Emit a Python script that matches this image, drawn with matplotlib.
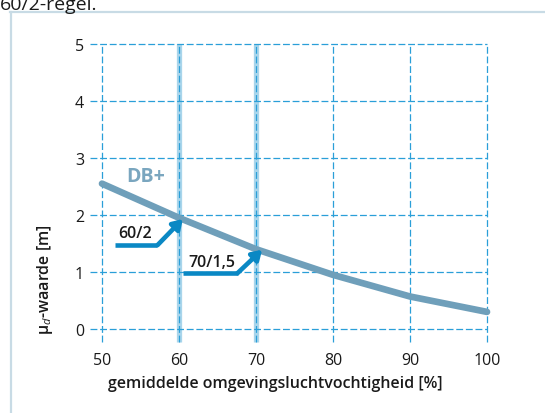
import matplotlib
matplotlib.use("Agg")
import matplotlib.pyplot as plt
from matplotlib.lines import Line2D

plt.rcParams['font.family'] = ['Open Sans', 'DejaVu Sans']
plt.rcParams['mathtext.fontset'] = 'custom'
plt.rcParams['mathtext.rm'] = 'Open Sans'
plt.rcParams['mathtext.it'] = 'Open Sans:italic'

# data
humidity = [50, 60, 70, 80, 90, 100]
mu_d = [2.55, 1.95, 1.40, 0.95, 0.57, 0.30]
x_ticks = [50, 60, 70, 80, 90, 100]
y_ticks = [0, 1, 2, 3, 4, 5]
marked = [60, 70]
arrow_6020 = [(51.7, 1.47), (57.2, 1.47), (60.5, 1.93)]
arrow_7015 = [(60.5, 0.98), (67.6, 0.98), (70.8, 1.39)]

curve_col = '#6f9fba'
grid_col = '#2a9fd8'
band_col = '#a9d5eb'
arrow_col = '#0a88c4'
dash = (0, (5.5, 2.2))

fig = plt.figure(figsize=(5.45, 4.14), dpi=100)
ax = fig.add_axes([0.1617, 0.1616, 0.7404, 0.7435])
ax.set_xlim(48.2, 100.6)
ax.set_ylim(-0.3, 5.1)
for s in ax.spines.values():
    s.set_visible(False)

# highlighted humidity lines
ax.vlines(marked, -0.23, 5, color=band_col, lw=3.8, zorder=1)
# grid
ax.hlines(y_ticks, 48.45, 100, color=grid_col, lw=0.9, linestyles=dash, zorder=2)
ax.vlines(x_ticks, -0.23, 5, color=grid_col, lw=0.9, linestyles=dash, zorder=2)

ax.plot(humidity, mu_d, color=curve_col, lw=4.8, solid_capstyle='round', zorder=3)
ax.text(55.7, 2.68, 'DB+', color='#7aa6bf', fontsize=14, fontweight='bold',
        ha='center', va='center')

for pts, label, lpos in [(arrow_6020, '60/2', (54.35, 1.68)),
                         (arrow_7015, '70/1,5', (64.3, 1.18))]:
    ax.plot([pts[0][0], pts[1][0]], [pts[0][1], pts[1][1]], color=arrow_col,
            lw=3.3, solid_capstyle='butt', zorder=4)
    ax.annotate('', xy=pts[2], xytext=pts[1],
                arrowprops=dict(arrowstyle='-|>,head_length=0.55,head_width=0.35',
                                color=arrow_col, lw=3.3, shrinkA=0, shrinkB=0),
                zorder=4)
    ax.text(lpos[0], lpos[1], label, fontsize=11.5, fontweight='semibold',
            color='#1a1a1a', ha='center', va='center', zorder=5)

ax.set_xticks(x_ticks)
ax.set_yticks(y_ticks)
ax.tick_params(length=0, labelsize=11.5, colors='#1a1a1a', pad=4)
ax.tick_params(axis='y', pad=3)

fig.text(275 / 545, 1 - 384 / 414, 'gemiddelde omgevingsluchtvochtigheid [%]',
         fontsize=11.5, fontweight='semibold', ha='center', va='center', color='#1a1a1a')
fig.text(45 / 545, 1 - 280 / 414, r'μ$_{\mathit{d}}$-waarde [m]', rotation=90,
         fontsize=11.5, fontweight='semibold', ha='center', va='center', color='#1a1a1a')

# frame and cut-off caption above it
fig.add_artist(Line2D([10.5 / 545, 10.5 / 545], [-0.1, 1 - 12.5 / 414],
                      color='#c8dbe5', lw=1.6, transform=fig.transFigure))
fig.add_artist(Line2D([10 / 545, 1.1], [1 - 12.5 / 414, 1 - 12.5 / 414],
                      color='#c8dbe5', lw=1.6, transform=fig.transFigure))
fig.text(0.0, 1 - 10 / 414, '60/2-regel.', fontsize=14, color='#1a1a1a',
         ha='left', va='baseline')

fig.savefig('out.png', dpi=100)
